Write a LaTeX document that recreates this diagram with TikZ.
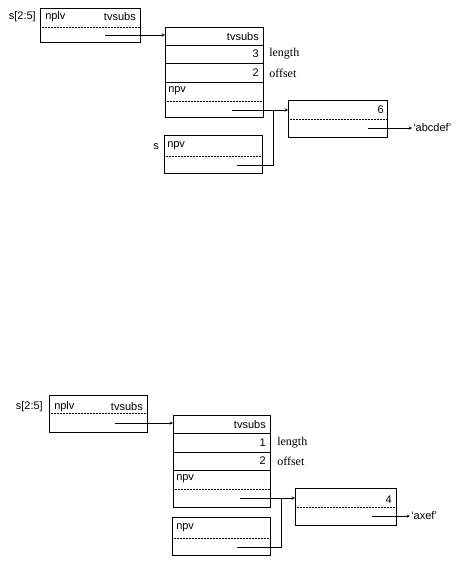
\documentclass[tikz,border=0pt]{standalone}
\usepackage{fontspec}
\setsansfont{Liberation Sans}
\setmainfont{Liberation Serif}

\begin{document}
\begin{tikzpicture}[>=stealth,line width=.5pt,x=1pt,y=-1pt,
  box/.style={draw,inner sep=0pt,anchor=north west},
  lbl/.style={font=\sffamily\fontsize{11}{13}\selectfont,inner sep=1pt},
  fld/.style={font=\rmfamily\fontsize{12}{14}\selectfont,inner sep=1pt,anchor=west},
  half/.style={densely dotted}]
\useasboundingbox (0,0) rectangle (472,569);
% before the assignment
\node[lbl,anchor=east] (tvA) at (37,17) {s[2:5]};
\node[box,minimum width=100pt,minimum height=34pt] (dA) at (40,8) {};
\node[lbl,anchor=west] (dAl) at (44,17) {nplv};
\node[lbl,anchor=east] (dAr) at (137,17) {tvsubs};
\draw[half] ([yshift=-19pt]dA.north west) -- ([yshift=-19pt]dA.north east);
\coordinate (pA) at (105,35);
\node[box,minimum width=98pt,minimum height=90pt] (bA) at (165,27) {};
\foreach \y in {18,36,55} \draw ([yshift=-\y pt]bA.north west) -- ([yshift=-\y pt]bA.north east);
\draw[half] ([yshift=-74pt]bA.north west) -- ([yshift=-74pt]bA.north east);
\node[lbl,anchor=east] (tA) at (260,37) {tvsubs};
\node[lbl,anchor=east] (lenA) at (260,54) {3};
\node[fld] (lenAn) at (268,54) {length};
\node[lbl,anchor=east] (offA) at (260,73) {2};
\node[fld] (offAn) at (268,73) {offset};
\node[lbl,anchor=west] (npA) at (167,91) {npv};
\coordinate (qA) at (232,110);
\node[box,minimum width=99pt,minimum height=37pt] (sA) at (288,100) {};
\node[lbl,anchor=east] (nA) at (385,110) {6};
\draw[half] ([yshift=-19pt]sA.north west) -- ([yshift=-19pt]sA.north east);
\coordinate (rA) at (368,128);
\node[lbl,anchor=west] (strA) at (412,128) {`abcdef'};
\node[lbl,anchor=east] (vA) at (160,147) {s};
\node[box,minimum width=98pt,minimum height=38pt] (eA) at (164,135) {};
\node[lbl,anchor=west] (npA2) at (166,146) {npv};
\draw[half] ([yshift=-21pt]eA.north west) -- ([yshift=-21pt]eA.north east);
\coordinate (uA) at (237,165);
\coordinate (jA) at (273,110);
\draw[->] (pA) -- (pA -| bA.west);
\draw[->] (qA) -- (qA -| sA.west);
\draw[->] (rA) -- (strA.west);
\draw (uA) -- (uA -| jA) -- (jA);
% after the assignment
\node[lbl,anchor=east] (tvB) at (44,407) {s[2:5]};
\node[box,minimum width=98pt,minimum height=37pt] (dB) at (49,395) {};
\node[lbl,anchor=west] (dBl) at (53,407) {nplv};
\node[lbl,anchor=east] (dBr) at (144,407) {tvsubs};
\draw[half] ([yshift=-18pt]dB.north west) -- ([yshift=-18pt]dB.north east);
\coordinate (pB) at (115,423);
\node[box,minimum width=97pt,minimum height=92pt] (bB) at (173,415) {};
\foreach \y in {18,37,55} \draw ([yshift=-\y pt]bB.north west) -- ([yshift=-\y pt]bB.north east);
\draw[half] ([yshift=-74pt]bB.north west) -- ([yshift=-74pt]bB.north east);
\node[lbl,anchor=east] (tB) at (267,425) {tvsubs};
\node[lbl,anchor=east] (lenB) at (267,443) {1};
\node[fld] (lenBn) at (276,443) {length};
\node[lbl,anchor=east] (offB) at (267,461) {2};
\node[fld] (offBn) at (276,461) {offset};
\node[lbl,anchor=west] (npB) at (175,479) {npv};
\coordinate (qB) at (240,498);
\node[box,minimum width=101pt,minimum height=37pt] (sB) at (295,488) {};
\node[lbl,anchor=east] (nB) at (393,500) {4};
\draw[half] ([yshift=-19pt]sB.north west) -- ([yshift=-19pt]sB.north east);
\coordinate (rB) at (372,516);
\node[lbl,anchor=west] (strB) at (410,516) {`axef'};
\node[box,minimum width=98pt,minimum height=38pt] (eB) at (172,517) {};
\node[lbl,anchor=west] (npB2) at (175,528) {npv};
\draw[half] ([yshift=-21pt]eB.north west) -- ([yshift=-21pt]eB.north east);
\coordinate (uB) at (237,547);
\coordinate (jB) at (281,498);
\draw[->] (pB) -- (pB -| bB.west);
\draw[->] (qB) -- (qB -| sB.west);
\draw[->] (rB) -- (strB.west);
\draw (uB) -- (uB -| jB) -- (jB);
\end{tikzpicture}
\end{document}
